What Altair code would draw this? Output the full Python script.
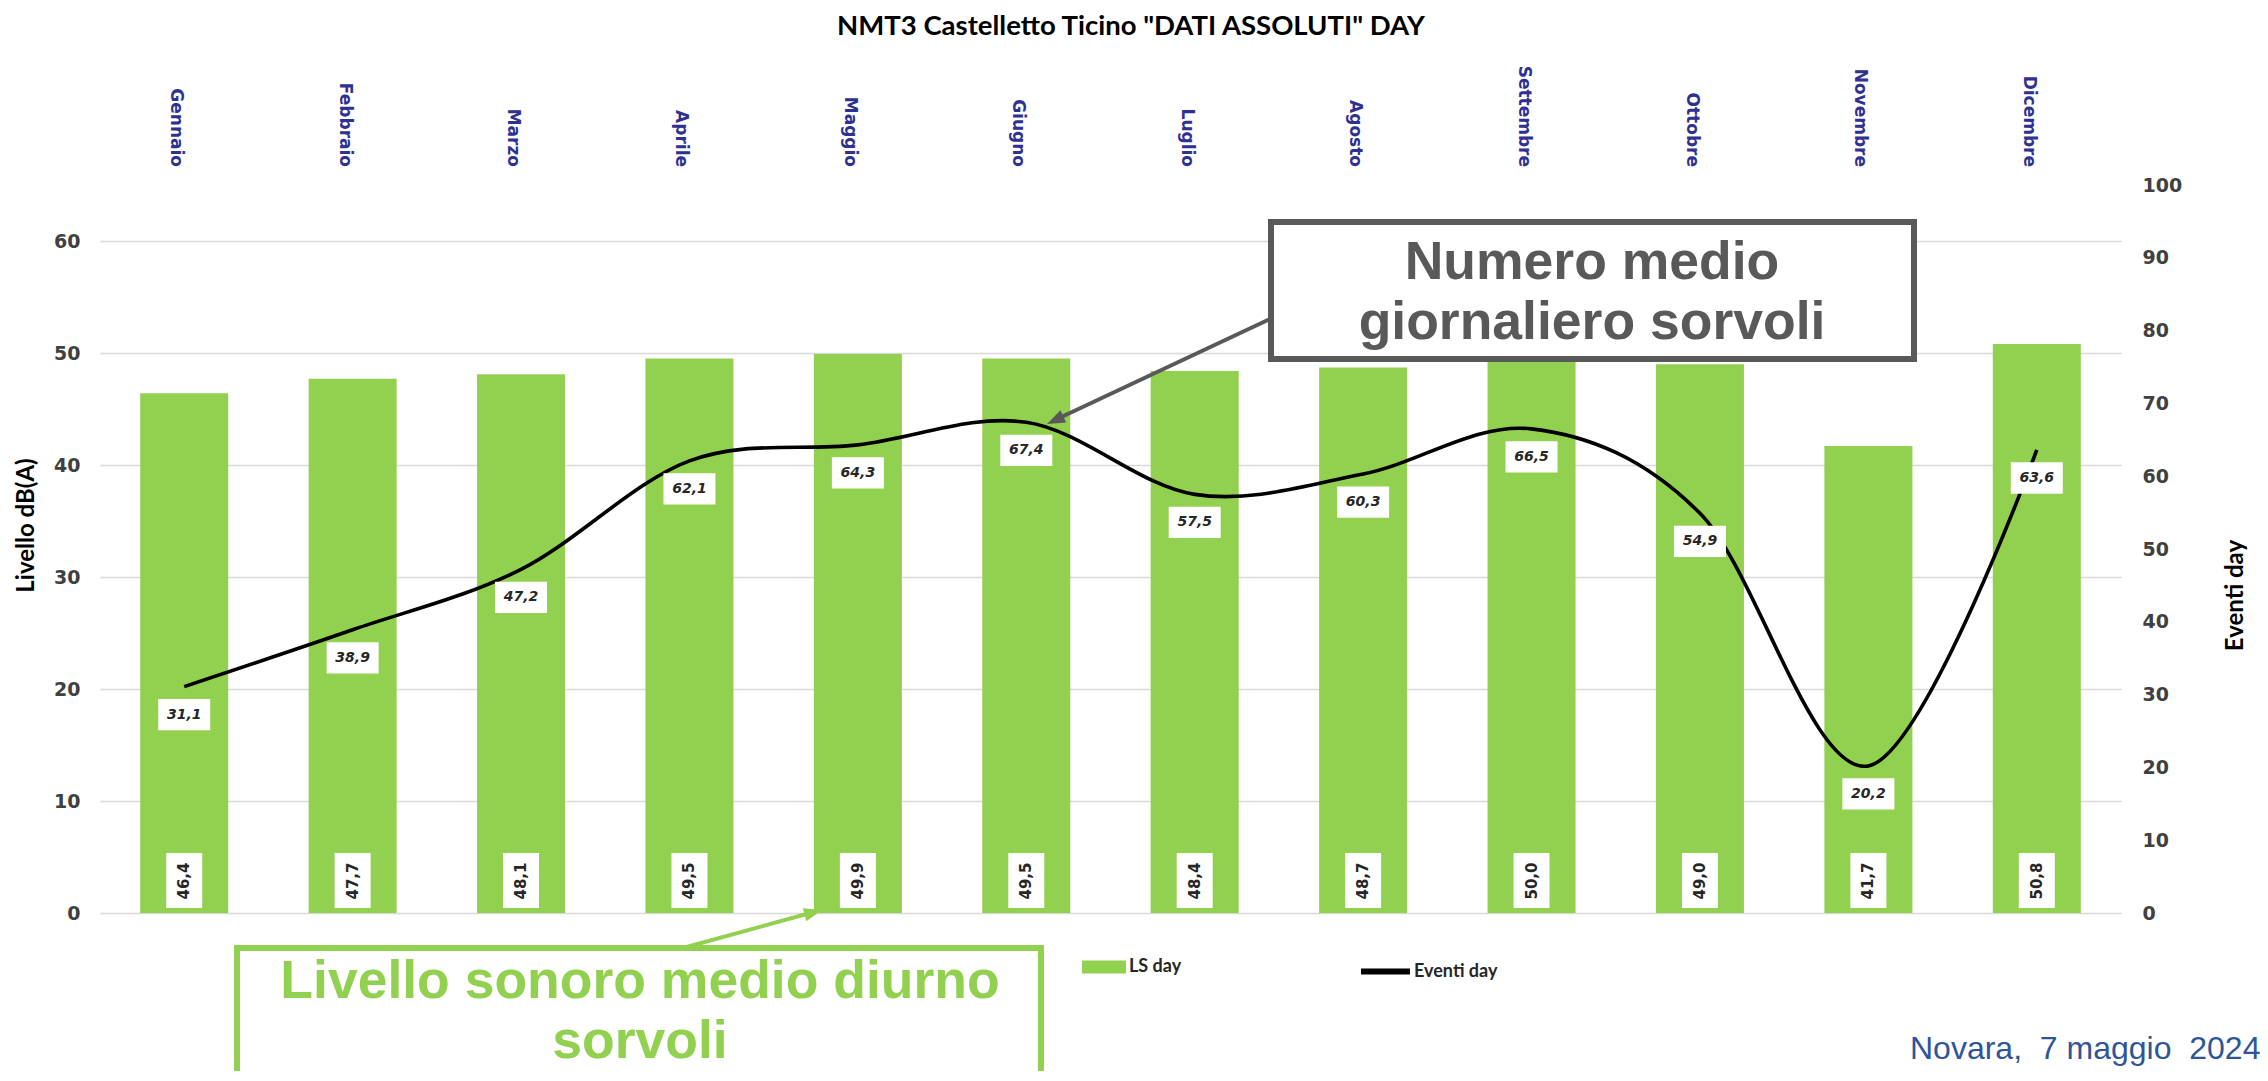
import altair as alt
import pandas as pd

# ---------------- data ----------------
months = ["Gennaio", "Febbraio", "Marzo", "Aprile", "Maggio", "Giugno",
          "Luglio", "Agosto", "Settembre", "Ottobre", "Novembre", "Dicembre"]
ls_day = [46.4, 47.7, 48.1, 49.5, 49.9, 49.5, 48.4, 48.7, 50.0, 49.0, 41.7, 50.8]
eventi_day = [31.1, 38.9, 47.2, 62.1, 64.3, 67.4, 57.5, 60.3, 66.5, 54.9, 20.2, 63.6]
left_ticks = [0, 10, 20, 30, 40, 50, 60]
right_ticks = [0, 10, 20, 30, 40, 50, 60, 70, 80, 90, 100]

title_text = 'NMT3 Castelletto Ticino "DATI ASSOLUTI" DAY'
box1_lines = ["Numero medio", "giornaliero sorvoli"]
box2_lines = ["Livello sonoro medio diurno", "sorvoli"]
footer_text = "Novara,\u00a0\u00a07 maggio\u00a0\u00a02024"

df = pd.DataFrame({"mese": months, "ls": ls_day, "eventi": eventi_day})

# ---------------- layout / style ----------------
W, H = 2021, 728
GREEN = "#92D050"
GRAY = "#595959"
BLUE = "#2E3192"
DARK = "#262626"
CAL = "Lato"
VER = "DejaVu Sans"

step = W / 12.0
bar_w = 88
pin = 1 - bar_w / step

xenc = alt.X("mese:N", sort=months,
             scale=alt.Scale(paddingInner=pin, paddingOuter=pin / 2),
             axis=None)

left_scale = alt.Scale(domain=[0, 65], nice=False, zero=True)
right_scale = alt.Scale(domain=[0, 100], nice=False, zero=True)

base = alt.Chart(df)

bars = base.mark_bar(size=bar_w).transform_calculate(s1="'LS day'").encode(
    x=xenc,
    y=alt.Y("ls:Q", scale=left_scale,
            axis=alt.Axis(orient="left", values=left_ticks, title="Livello dB(A)",
                          domain=False, ticks=False, grid=True,
                          gridColor="#D9D9D9", gridWidth=1.5,
                          labelFont=VER, labelFontSize=19, labelFontWeight="bold",
                          labelColor="#404040", labelPadding=20,
                          titleFont=CAL, titleFontSize=24, titleFontWeight="bold",
                          titleColor="#000000", titleAngle=270,
                          titleX=-74, titleY=340, titleAlign="center",
                          titleBaseline="middle")),
    fill=alt.Fill("s1:N", scale=alt.Scale(domain=["LS day"], range=[GREEN]),
                  legend=alt.Legend(orient="none", legendX=982, legendY=760,
                                    title=None, padding=0,
                                    symbolType="M-1,-0.3L1,-0.3L1,0.3L-1,0.3Z",
                                    symbolSize=1936, symbolStrokeWidth=0,
                                    labelFont=CAL, labelFontSize=18,
                                    labelFontWeight="bold", labelColor=DARK,
                                    labelOffset=3)),
)

bar_box = base.mark_bar(size=36, color="white").encode(
    x=xenc, y=alt.value(H - 60), y2=alt.value(H - 5))

bar_txt = base.mark_text(angle=270, font=VER, fontSize=15, fontWeight="bold",
                         color=DARK, align="center", baseline="middle").transform_calculate(
    lab="replace(format(datum.ls, '.1f'), '.', ',')").encode(
    x=xenc, y=alt.value(H - 32), text="lab:N")

line = base.mark_line(interpolate="cardinal", tension=0, strokeWidth=3.6).transform_calculate(
    s2="'Eventi day'").encode(
    x=xenc,
    y=alt.Y("eventi:Q", scale=right_scale,
            axis=alt.Axis(orient="right", values=right_ticks, title="Eventi day",
                          domain=False, ticks=False, grid=False,
                          labelFont=VER, labelFontSize=19, labelFontWeight="bold",
                          labelColor="#404040", labelPadding=21, labelAlign="left",
                          titleFont=CAL, titleFontSize=24, titleFontWeight="bold",
                          titleColor="#000000", titleAngle=270,
                          titleX=114, titleY=410, titleAlign="center",
                          titleBaseline="middle")),
    stroke=alt.Stroke("s2:N", scale=alt.Scale(domain=["Eventi day"], range=["#000000"]),
                      legend=alt.Legend(orient="none", legendX=1258, legendY=759,
                                        title=None, padding=0, symbolType="stroke",
                                        symbolSize=2401, symbolStrokeWidth=6,
                                        labelFont=CAL, labelFontSize=18,
                                        labelFontWeight="bold", labelColor=DARK,
                                        labelOffset=1)),
)

line_box = base.mark_bar(size=52, color="white").transform_calculate(
    lo="datum.eventi - 3.85 - 2.15", hi="datum.eventi - 3.85 + 2.15").encode(
    x=xenc,
    y=alt.Y("lo:Q", scale=right_scale, axis=None),
    y2="hi:Q")

line_txt = base.mark_text(font=VER, fontSize=14, fontWeight="bold", fontStyle="italic",
                          color=DARK, align="center", baseline="middle").transform_calculate(
    lab="replace(format(datum.eventi, '.1f'), '.', ',')",
    ly="datum.eventi - 3.85").encode(
    x=xenc, y=alt.Y("ly:Q", scale=right_scale, axis=None), text="lab:N")

month_lab = base.mark_text(angle=90, font=VER, fontSize=17, fontWeight="bold",
                           color=BLUE, align="right", baseline="middle", dy=8).encode(
    x=xenc, y=alt.value(-18), text="mese:N")

one = pd.DataFrame({"k": [0]})
ann = alt.Chart(one)

title = ann.mark_text(text=title_text, font=CAL, fontSize=27.5, fontWeight="bold",
                      color="#000000", align="center", baseline="alphabetic").encode(
    x=alt.value(1031), y=alt.value(-150))

# gray annotation box
box1 = ann.mark_rect(fill="white", stroke=GRAY, strokeWidth=6).encode(
    x=alt.value(1171), x2=alt.value(1814), y=alt.value(37), y2=alt.value(174))
box1_t = ann.mark_text(text=box1_lines, font="Liberation Sans", fontSize=53.5,
                       lineHeight=60, fontWeight="bold", color=GRAY, align="center",
                       baseline="alphabetic").encode(x=alt.value(1492), y=alt.value(94))
arrow1 = ann.mark_rule(color=GRAY, strokeWidth=4).encode(
    x=alt.value(1170), y=alt.value(134), x2=alt.value(955), y2=alt.value(235))
head1 = ann.mark_point(shape="M0,0L0.75,2L-0.75,2Z", filled=True, size=324,
                       angle=245, color=GRAY, opacity=1, strokeWidth=0).encode(
    x=alt.value(947), y=alt.value(239))

# green annotation box
box2 = ann.mark_rect(fill="white", stroke=GREEN, strokeWidth=6).encode(
    x=alt.value(137), x2=alt.value(941), y=alt.value(763), y2=alt.value(935))
box2_t = ann.mark_text(text=box2_lines, font="Liberation Sans", fontSize=53.5,
                       lineHeight=60, fontWeight="bold", color=GREEN, align="center",
                       baseline="alphabetic").encode(x=alt.value(540), y=alt.value(813))
arrow2 = ann.mark_rule(color=GREEN, strokeWidth=4).encode(
    x=alt.value(583), y=alt.value(763), x2=alt.value(714), y2=alt.value(727))
head2 = ann.mark_point(shape="M0,0L0.75,2L-0.75,2Z", filled=True, size=324,
                       angle=75, color=GREEN, opacity=1, strokeWidth=0).encode(
    x=alt.value(722), y=alt.value(725))

footer = ann.mark_text(text=footer_text, font="Liberation Sans", fontSize=32,
                       color="#2F5597", align="left", baseline="alphabetic").encode(
    x=alt.value(1810), y=alt.value(874))

chart = alt.layer(
    bars, bar_box, bar_txt, line, line_box, line_txt, month_lab,
    arrow1, box1, box1_t, head1,
    arrow2, box2, box2_t, head2,
    title, footer,
).resolve_scale(y="independent").properties(
    width=W, height=H,
    background="white",
    autosize=alt.AutoSizeParams(type="none"),
    padding={"left": 92, "top": 177, "right": 139, "bottom": 158},
).configure_view(strokeWidth=0, stroke="transparent")

chart.save("out.html", embed_options={"renderer": "svg", "actions": False})
